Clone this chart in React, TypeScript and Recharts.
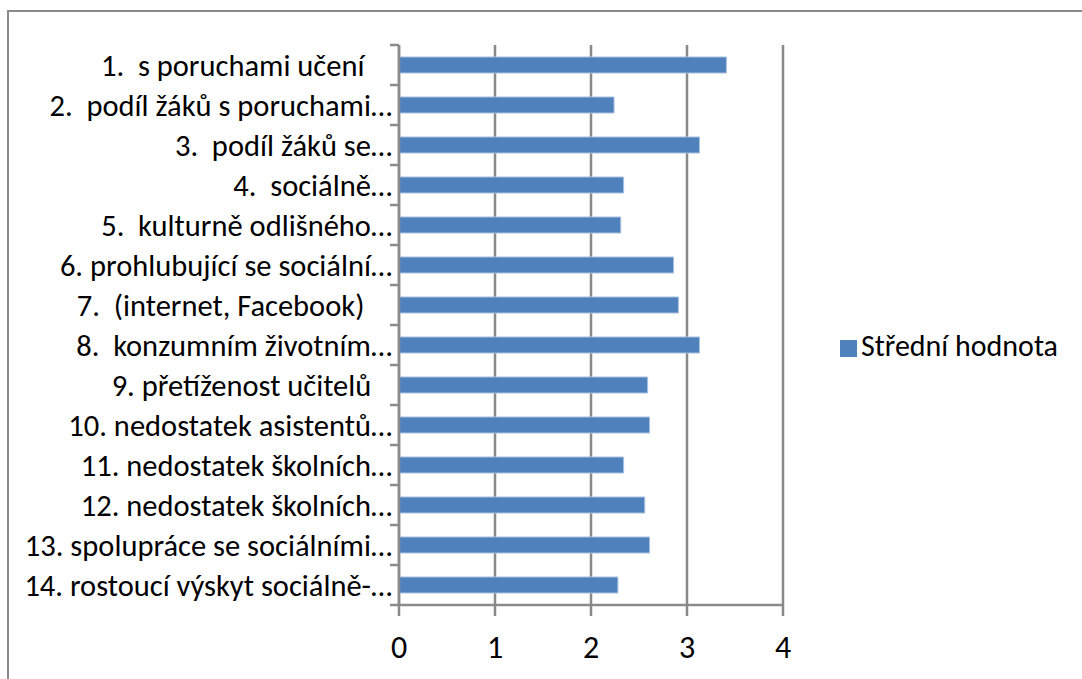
import React from "react";
import {
  BarChart,
  Bar,
  XAxis,
  YAxis,
  CartesianGrid,
  Legend,
} from "recharts";

const categories = [
  "1.  s poruchami učení    ",
  "2.  podíl žáků s poruchami…",
  "3.  podíl žáků se…",
  "4.  sociálně…",
  "5.  kulturně odlišného…",
  "6. prohlubující se sociální…",
  "7.  (internet, Facebook)    ",
  "8.  konzumním životním…",
  "9. přetíženost učitelů   ",
  "10. nedostatek asistentů…",
  "11. nedostatek školních…",
  "12. nedostatek školních…",
  "13. spolupráce se sociálními…",
  "14. rostoucí výskyt sociálně-…",
];
const means = [3.41, 2.24, 3.13, 2.34, 2.31, 2.86, 2.91, 3.13, 2.59, 2.61, 2.34, 2.56, 2.61, 2.28];
const xTicks = [0, 1, 2, 3, 4];

const data = categories.map((name, i) => ({ name, value: means[i] }));

const W = 1082;
const H = 679;
const legendW = 240;
// legend box width gets added to the right offset, so take it off here
const margin = { top: 45, right: 299 - legendW, bottom: 14, left: 0 };
const xAxisHeight = 60;
const plotH = H - margin.top - margin.bottom - xAxisHeight;
const halfBand = plotH / categories.length / 2;
const grey = "#8a8a8a";
const font = "Carlito, Calibri, Lato, sans-serif";

const CategoryTick = (props: any) => {
  const { x, y, payload, index } = props;
  const axisX = x + 7;
  // keep the double / trailing spaces of the original labels
  const label = String(payload.value).replace(/ /g, "\u00a0");
  return (
    <g>
      <text
        x={x}
        y={y}
        textAnchor="end"
        dominantBaseline="central"
        fill="#000"
        fontSize={30.5}
        fontFamily={font}
      >
        {label}
      </text>
      <line x1={axisX - 9} x2={axisX} y1={y - halfBand} y2={y - halfBand} stroke={grey} strokeWidth={2.5} />
      {index === categories.length - 1 && (
        <line x1={axisX - 9} x2={axisX} y1={y + halfBand} y2={y + halfBand} stroke={grey} strokeWidth={2.5} />
      )}
    </g>
  );
};

const ValueTick = (props: any) => {
  const { x, y, payload } = props;
  return (
    <text x={x} y={y} textAnchor="middle" dy="0.71em" fill="#000" fontSize={32} fontFamily={font}>
      {payload.value}
    </text>
  );
};

export default function App() {
  return (
    <div style={{ position: "absolute", left: 0, top: 0, width: W, height: H, overflow: "hidden", background: "#fff" }}>
      <div
        style={{
          position: "absolute",
          left: 7,
          top: 10,
          width: W + 20,
          height: H + 20,
          border: `2px solid ${grey}`,
        }}
      />
      <BarChart width={W} height={H} data={data} layout="vertical" margin={margin} barSize={16}>
        <CartesianGrid horizontal={false} vertical stroke={grey} strokeWidth={2.5} />
        <XAxis
          type="number"
          domain={[0, 4]}
          ticks={xTicks}
          height={xAxisHeight}
          tickSize={11}
          tickMargin={19}
          stroke={grey}
          strokeWidth={2.5}
          tick={<ValueTick />}
        />
        <YAxis
          type="category"
          dataKey="name"
          width={399}
          tickLine={false}
          tickSize={0}
          tickMargin={7}
          stroke={grey}
          strokeWidth={2.5}
          interval={0}
          tick={<CategoryTick />}
        />
        <Legend
          layout="horizontal"
          verticalAlign="middle"
          align="right"
          iconType="square"
          iconSize={17}
          wrapperStyle={{ left: 828, top: 327, right: "auto", width: legendW, fontFamily: font, fontSize: 30 }}
          formatter={(v: string) => <span style={{ color: "#000" }}>{v}</span>}
        />
        <Bar dataKey="value" name="Střední hodnota" fill="#4F81BD" stroke="#a9c0df" strokeWidth={1} isAnimationActive={false} />
      </BarChart>
    </div>
  );
}
